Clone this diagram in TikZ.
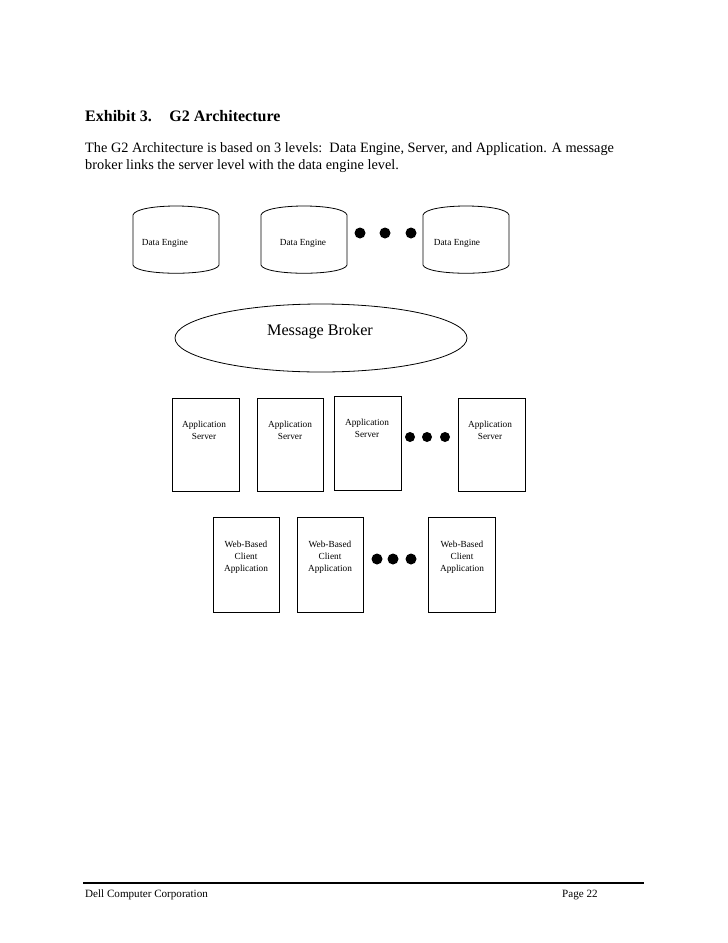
\documentclass[tikz,border=0pt]{standalone}
\usepackage{fontspec}
\setmainfont{Liberation Serif}
\usetikzlibrary{shapes,positioning}

\begin{document}
\begin{tikzpicture}[x=1pt, y=-1pt,
  box/.style = {black, line width=.8pt},
  lbl/.style = {font=\fontsize{9.3}{12}\selectfont, align=center, inner sep=0pt},
  txt/.style = {anchor=base west, inner sep=0pt}]
 \useasboundingbox (0,0) rectangle (728,943);
 \fill[white] (0,0) rectangle (728,943);

 % heading and text
 \node[txt, font=\bfseries\fontsize{16}{19}\selectfont] (title) at (85,121) {Exhibit 3.\hspace{1.1em}G2 Architecture};
 \node[txt, font=\fontsize{14.3}{17}\selectfont] (line1) at (85,152) {The G2 Architecture is based on 3 levels:\ \ Data Engine, Server, and Application. A message};
 \node[txt, font=\fontsize{14.3}{17}\selectfont] (line2) at (85,169) {broker links the server level with the data engine level.};

 % data engines
 \draw[box] (133,215) .. controls (136,203) and (216,203) .. (219,215) -- (219,265) .. controls (216,276) and (136,276) .. (133,265) -- cycle;
 \draw[box] (261,215) .. controls (264,203) and (344,203) .. (347,215) -- (347,265) .. controls (344,276) and (264,276) .. (261,265) -- cycle;
 \draw[box] (423,215) .. controls (426,203) and (506,203) .. (509,215) -- (509,265) .. controls (506,276) and (426,276) .. (423,265) -- cycle;
 \node[lbl] (de1) at (165,243) {Data Engine};
 \node[lbl] (de2) at (303,243) {Data Engine};
 \node[lbl] (de3) at (457,243) {Data Engine};
 \fill (360,233) circle [radius=5.5];
 \fill (385,233) circle [radius=5.5];
 \fill (411,233) circle [radius=5.5];

 % broker
 \draw[box] (321,338) ellipse [x radius=146, y radius=34];
 \node[font=\fontsize{16.2}{19}\selectfont, inner sep=0pt] (broker) at (320,332) {Message Broker};

 % servers
 \draw[box] (172,398) rectangle (239,491);
 \draw[box] (257,398) rectangle (323,491);
 \draw[box] (334,396) rectangle (401,490);
 \draw[box] (458,398) rectangle (525,491);
 \node[lbl] (as1) at (204,430) {Application\\Server};
 \node[lbl] (as2) at (290,430) {Application\\Server};
 \node[lbl] (as3) at (367,428) {Application\\Server};
 \node[lbl] (as4) at (490,430) {Application\\Server};
 \fill (410,437) circle [radius=5];
 \fill (427,437) circle [radius=5];
 \fill (445,437) circle [radius=5];

 % clients
 \draw[box] (213,517) rectangle (279,612);
 \draw[box] (297,517) rectangle (363,612);
 \draw[box] (428,517) rectangle (495,612);
 \node[lbl] (wc1) at (246,557) {Web-Based\\Client\\Application};
 \node[lbl] (wc2) at (330,557) {Web-Based\\Client\\Application};
 \node[lbl] (wc3) at (462,557) {Web-Based\\Client\\Application};
 \fill (377,559) circle [radius=5.5];
 \fill (393,559) circle [radius=5.5];
 \fill (411,559) circle [radius=5.5];

 % footer
 \draw[line width=1.2pt] (83,883) -- (644,883);
 \node[txt, font=\fontsize{11.1}{13}\selectfont] (corp) at (85,897) {Dell Computer Corporation};
 \node[txt, font=\fontsize{11.1}{13}\selectfont] (page) at (562,897) {Page 22};
\end{tikzpicture}
\end{document}
